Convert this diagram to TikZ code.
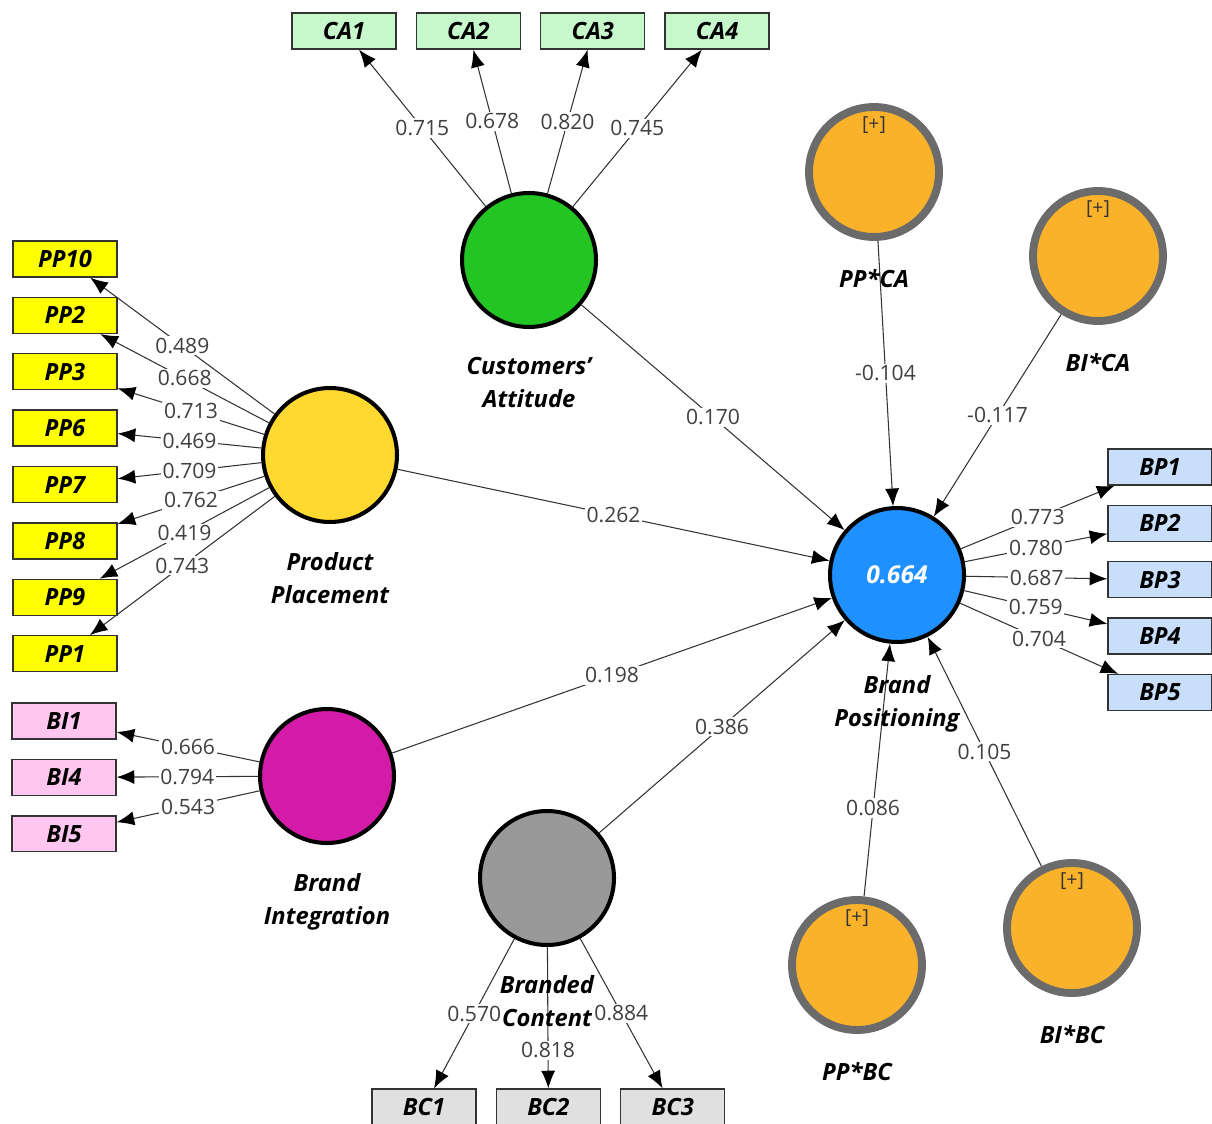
\documentclass[tikz,border=0pt]{standalone}
\usepackage{xcolor}
\usepackage{fontspec}
\setmainfont{Open Sans}
\usepackage{tikz}
\usetikzlibrary{shapes.geometric, arrows.meta, positioning}

\definecolor{caGreen}{RGB}{34,197,34}
\definecolor{ppYellow}{RGB}{255,217,47}
\definecolor{biMagenta}{RGB}{212,26,168}
\definecolor{bcGray}{RGB}{153,153,153}
\definecolor{bpBlue}{RGB}{30,144,255}
\definecolor{intOrange}{RGB}{251,178,43}
\definecolor{intRing}{RGB}{107,107,107}
\definecolor{caBox}{RGB}{198,248,204}
\definecolor{ppBox}{RGB}{255,255,0}
\definecolor{biBox}{RGB}{255,198,240}
\definecolor{bpBox}{RGB}{200,222,250}
\definecolor{bcBox}{RGB}{224,224,224}

\tikzset{
    latent/.style = {
        circle,
        draw=black,
        line width=2.3pt,
        minimum size=2.68cm,
        inner sep=0pt
    },
    moderator/.style = {
        circle,
        draw=intRing,
        fill=intOrange,
        line width=4.5pt,
        minimum size=2.6cm,
        inner sep=0pt
    },
    indicator/.style = {
        rectangle,
        draw=black!80,
        line width=0.8pt,
        minimum width=2.08cm,
        minimum height=0.72cm,
        inner sep=0pt,
        font=\fontsize{13.5}{16}\selectfont\bfseries\itshape
    },
    line/.style = {
        draw=black!80,
        line width=0.6pt,
        -{Latex[length=10pt,width=8pt,color=black]}
    }
}

\begin{document}
\begin{tikzpicture}[
    x=0.02cm, y=-0.02cm,
    node distance=0.38cm and 0.38cm, % gap between indicator boxes
    weight/.style={fill=white, inner sep=1pt, text=black!75, font=\fontsize{12}{14}\selectfont},
    caption/.style={align=center, inner sep=0pt, font=\fontsize{13.5}{19}\selectfont\bfseries\itshape},
    plustag/.style={inner sep=0pt, text=black!80, font=\fontsize{11}{13}\selectfont}
]
\useasboundingbox (0,0) rectangle (1212,1124);

% Latent variables
\node [latent, fill=caGreen] (CA) at (529,260) {};
\node [latent, fill=ppYellow] (PP) at (330,455) {};
\node [latent, fill=biMagenta] (BI) at (327,776) {};
\node [latent, fill=bcGray] (BC) at (547,878) {};
\node [latent, fill=bpBlue, text=white, font=\fontsize{14}{16}\selectfont\bfseries\itshape] (BP) at (897,575) {0.664};

% Moderating effects
\node [moderator] (PPCA) at (874,172) {};
\node [moderator] (BICA) at (1098,256) {};
\node [moderator] (PPBC) at (857,965) {};
\node [moderator] (BIBC) at (1072,928) {};
\node [plustag, below=0.26cm of PPCA.north] (PPCAtag) {[+]};
\node [plustag, below=0.26cm of BICA.north] (BICAtag) {[+]};
\node [plustag, below=0.26cm of PPBC.north] (PPBCtag) {[+]};
\node [plustag, below=0.26cm of BIBC.north] (BIBCtag) {[+]};

% Customers' Attitude indicators
\node [indicator, fill=caBox] (CA1) at (344,31) {CA1};
\node [indicator, fill=caBox, right=of CA1] (CA2) {CA2};
\node [indicator, fill=caBox, right=of CA2] (CA3) {CA3};
\node [indicator, fill=caBox, right=of CA3] (CA4) {CA4};

% Product Placement indicators
\node [indicator, fill=ppBox] (PP10) at (65,259) {PP10};
\node [indicator, fill=ppBox, below=of PP10] (PP2) {PP2};
\node [indicator, fill=ppBox, below=of PP2] (PP3) {PP3};
\node [indicator, fill=ppBox, below=of PP3] (PP6) {PP6};
\node [indicator, fill=ppBox, below=of PP6] (PP7) {PP7};
\node [indicator, fill=ppBox, below=of PP7] (PP8) {PP8};
\node [indicator, fill=ppBox, below=of PP8] (PP9) {PP9};
\node [indicator, fill=ppBox, below=of PP9] (PP1) {PP1};

% Brand Integration indicators
\node [indicator, fill=biBox] (BI1) at (64,721) {BI1};
\node [indicator, fill=biBox, below=of BI1] (BI4) {BI4};
\node [indicator, fill=biBox, below=of BI4] (BI5) {BI5};

% Brand Positioning indicators
\node [indicator, fill=bpBox] (BP1) at (1160,467) {BP1};
\node [indicator, fill=bpBox, below=of BP1] (BP2) {BP2};
\node [indicator, fill=bpBox, below=of BP2] (BP3) {BP3};
\node [indicator, fill=bpBox, below=of BP3] (BP4) {BP4};
\node [indicator, fill=bpBox, below=of BP4] (BP5) {BP5};

% Branded Content indicators
\node [indicator, fill=bcBox] (BC1) at (424,1107) {BC1};
\node [indicator, fill=bcBox, right=of BC1] (BC2) {BC2};
\node [indicator, fill=bcBox, right=of BC2] (BC3) {BC3};

% Outer loadings
\draw [line] (CA) -- node[weight] {0.715} (CA1);
\draw [line] (CA) -- node[weight] {0.678} (CA2);
\draw [line] (CA) -- node[weight] {0.820} (CA3);
\draw [line] (CA) -- node[weight] {0.745} (CA4);

\draw [line] (PP) -- node[weight] {0.489} (PP10);
\draw [line] (PP) -- node[weight] {0.668} (PP2);
\draw [line] (PP) -- node[weight] {0.713} (PP3);
\draw [line] (PP) -- node[weight] {0.469} (PP6);
\draw [line] (PP) -- node[weight] {0.709} (PP7);
\draw [line] (PP) -- node[weight] {0.762} (PP8);
\draw [line] (PP) -- node[weight] {0.419} (PP9);
\draw [line] (PP) -- node[weight] {0.743} (PP1);

\draw [line] (BI) -- node[weight] {0.666} (BI1);
\draw [line] (BI) -- node[weight] {0.794} (BI4);
\draw [line] (BI) -- node[weight] {0.543} (BI5);

\draw [line] (BP) -- node[weight] {0.773} (BP1);
\draw [line] (BP) -- node[weight] {0.780} (BP2);
\draw [line] (BP) -- node[weight] {0.687} (BP3);
\draw [line] (BP) -- node[weight] {0.759} (BP4);
\draw [line] (BP) -- node[weight] {0.704} (BP5);

\draw [line] (BC) -- node[weight] {0.570} (BC1);
\draw [line] (BC) -- node[weight, pos=0.73] {0.818} (BC2);
\draw [line] (BC) -- node[weight] {0.884} (BC3);

% Structural paths
\draw [line] (CA) -- node[weight] {0.170} (BP);
\draw [line] (PP) -- node[weight] {0.262} (BP);
\draw [line] (BI) -- node[weight] {0.198} (BP);
\draw [line] (BC) -- node[weight] {0.386} (BP);
\draw [line] (PPCA) -- node[weight] {-0.104} (BP);
\draw [line] (BICA) -- node[weight] {-0.117} (BP);
\draw [line] (PPBC) -- node[weight, pos=0.35] {0.086} (BP);
\draw [line] (BIBC) -- node[weight] {0.105} (BP);

% Construct names
\node [caption, below=0.56cm of CA] (CAlab) {Customers’\\Attitude};
\node [caption, below=0.56cm of PP] (PPlab) {Product\\Placement};
\node [caption, below=0.56cm of BI] (BIlab) {Brand\\Integration};
\node [caption, below=0.56cm of BC] (BClab) {Branded\\Content};
\node [caption, below=0.62cm of BP] (BPlab) {Brand\\Positioning};
\node [caption, below=0.56cm of PPCA] (PPCAlab) {PP*CA};
\node [caption, below=0.56cm of BICA] (BICAlab) {BI*CA};
\node [caption, below=0.56cm of PPBC] (PPBClab) {PP*BC};
\node [caption, below=0.56cm of BIBC] (BIBClab) {BI*BC};

\end{tikzpicture}
\end{document}
